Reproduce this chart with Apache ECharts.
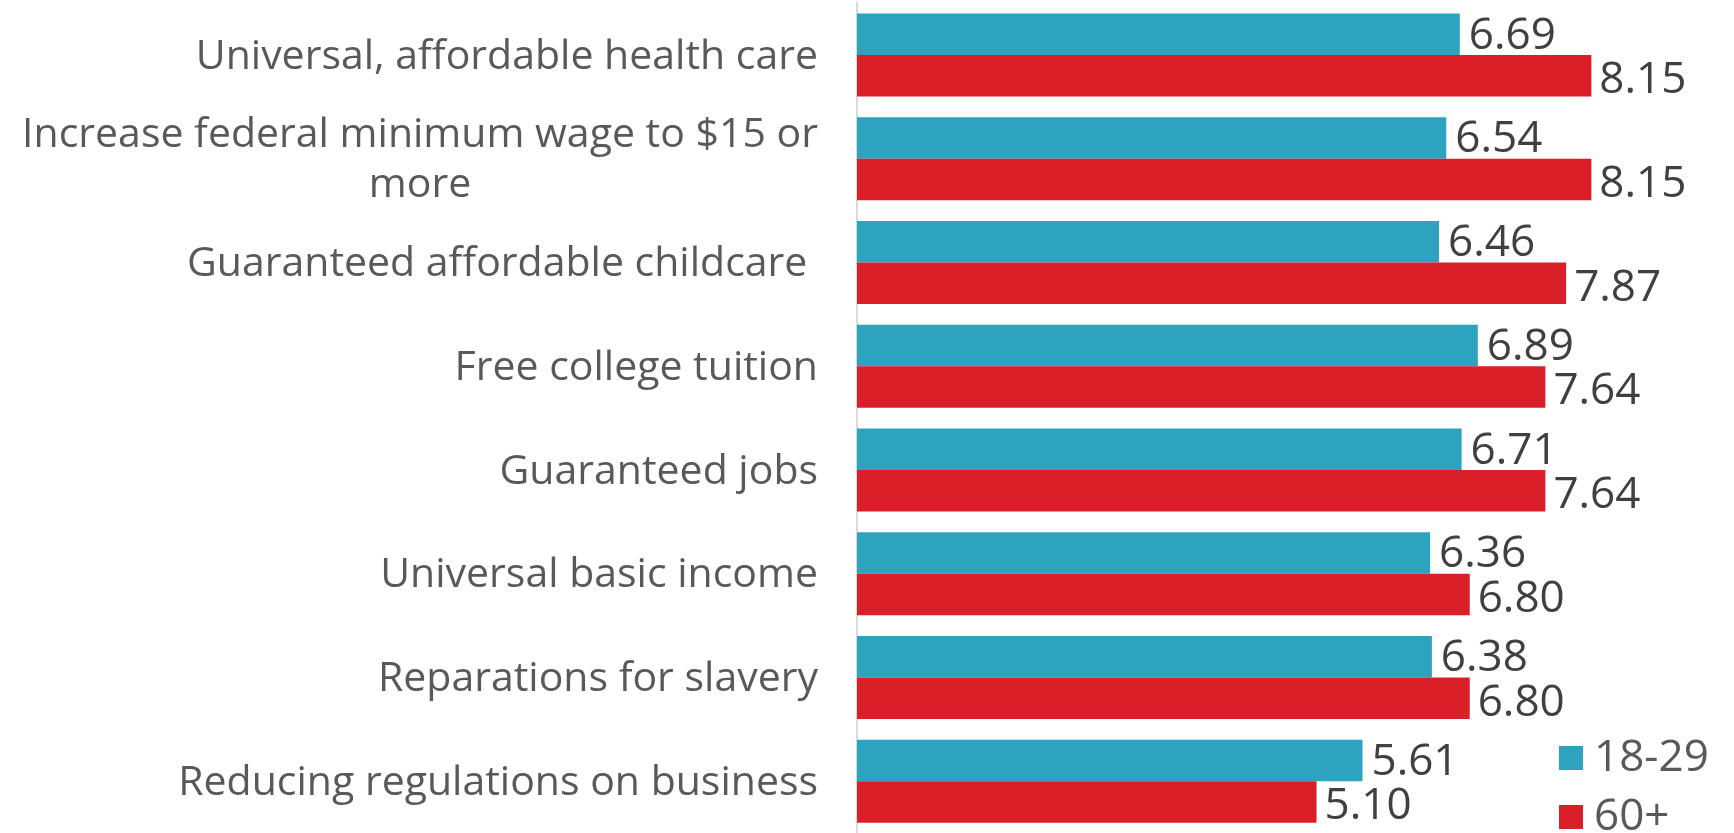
<!DOCTYPE html>
<html>
<head>
<meta charset="utf-8">
<script src="https://cdn.jsdelivr.net/npm/echarts@6/dist/echarts.min.js"></script>
<style>
  html, body { margin: 0; padding: 0; background: #fff; }
  #main { width: 1734px; height: 833px; }
</style>
</head>
<body>
<div id="main"></div>
<script>
// categories top to bottom
var categories = [
  'Universal, affordable health care',
  'Increase federal minimum wage to $15 or more',
  'Guaranteed affordable childcare ',
  'Free college tuition',
  'Guaranteed jobs',
  'Universal basic income',
  'Reparations for slavery',
  'Reducing regulations on business'
];
var young = [6.69, 6.54, 6.46, 6.89, 6.71, 6.36, 6.38, 5.61];
var old = [8.15, 8.15, 7.87, 7.64, 7.64, 6.80, 6.80, 5.10];
var seriesNames = ['18-29', '60+'];

var fontFam = '"Open Sans", Lato, sans-serif';
var catSize = 41;
var firstLine = 'Increase federal minimum wage to $15 or';

// measure the first line so "more" can be centred under it
var cv = document.createElement('canvas').getContext('2d');
cv.font = catSize + 'px ' + fontFam;
var wideW = Math.ceil(cv.measureText(firstLine).width);

var myChart = echarts.init(document.getElementById('main'));
var option = {
  backgroundColor: '#ffffff',
  animation: false,
  grid: {
    left: 857,
    top: 3,
    right: 21,
    bottom: -6,
    containLabel: false
  },
  legend: {
    orient: 'vertical',
    left: 1559,
    top: 736,
    height: 200,
    padding: 0,
    itemWidth: 24,
    itemHeight: 24,
    itemGap: 15,
    icon: 'rect',
    data: seriesNames,
    textStyle: {
      fontSize: 44,
      lineHeight: 44,
      color: '#595959',
      fontFamily: fontFam,
      padding: [0, 0, 0, 6]
    }
  },
  xAxis: {
    type: 'value',
    min: 0,
    max: 9.5,
    show: false
  },
  yAxis: {
    type: 'category',
    inverse: true,
    data: categories,
    axisLine: { show: true, lineStyle: { color: '#d9d9d9', width: 2 } },
    axisTick: { show: false },
    axisLabel: {
      margin: 39,
      fontSize: catSize,
      color: '#595959',
      fontFamily: fontFam,
      lineHeight: 50,
      padding: [4, 0, 0, 0],
      formatter: function (v) {
        if (v.indexOf(firstLine) === 0) {
          return '{c|' + firstLine + '}\n{c|more}';
        }
        return v;
      },
      rich: {
        c: {
          width: wideW,
          align: 'center',
          fontSize: catSize,
          color: '#595959',
          fontFamily: fontFam,
          lineHeight: 50
        }
      }
    }
  },
  series: [
    {
      name: seriesNames[0],
      type: 'bar',
      data: young,
      barGap: '0%',
      barCategoryGap: '20%',
      itemStyle: { color: '#2ea3c0' },
      label: {
        show: true,
        position: 'right',
        distance: 9,
        offset: [0, 2],
        formatter: function (p) { return p.value.toFixed(2); },
        fontSize: 44,
        color: '#404040',
        fontFamily: fontFam
      }
    },
    {
      name: seriesNames[1],
      type: 'bar',
      data: old,
      barGap: '0%',
      barCategoryGap: '20%',
      itemStyle: { color: '#da1f28' },
      label: {
        show: true,
        position: 'right',
        distance: 8,
        offset: [0, 5],
        formatter: function (p) { return p.value.toFixed(2); },
        fontSize: 44,
        color: '#404040',
        fontFamily: fontFam
      }
    }
  ]
};
myChart.setOption(option, true);
</script>
</body>
</html>
